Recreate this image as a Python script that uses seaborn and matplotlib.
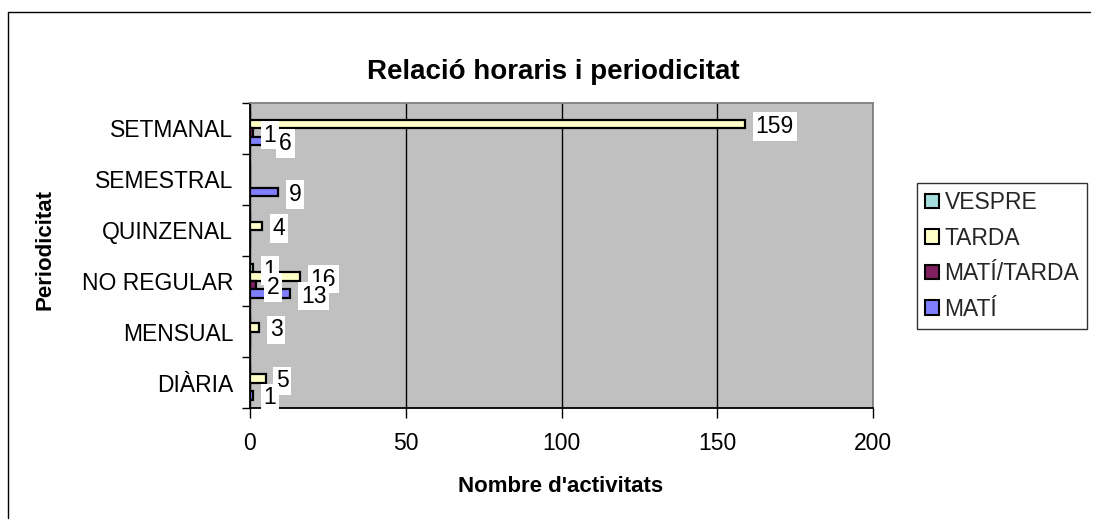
import matplotlib
matplotlib.use("Agg")
import matplotlib.pyplot as plt
import seaborn as sns
import pandas as pd
from matplotlib.patches import Patch
from matplotlib.lines import Line2D

# Activities per periodicity and time slot
periods = ["SETMANAL", "SEMESTRAL", "QUINZENAL", "NO REGULAR", "MENSUAL", "DIÀRIA"]
schedules = ["VESPRE", "TARDA", "MATÍ/TARDA", "MATÍ"]
vespre = [0, 0, 0, 1, 0, 0]
tarda = [159, 0, 4, 16, 3, 5]
mati_tarda = [1, 0, 0, 2, 0, 0]
mati = [6, 9, 0, 13, 0, 1]
x_ticks = [0, 50, 100, 150, 200]

colors = ["#A6DEDE", "#FFFFC8", "#802060", "#8080FF"]
series = [vespre, tarda, mati_tarda, mati]

df = pd.DataFrame({
    "Periodicitat": periods * len(schedules),
    "Horari": [s for s in schedules for _ in periods],
    "Activitats": vespre + tarda + mati_tarda + mati,
})

sns.set_theme(style="white")
plt.rcParams["font.family"] = ["Liberation Sans", "DejaVu Sans"]

W, H = 1093, 522
fig = plt.figure(figsize=(W / 100, H / 100), dpi=100)
ax = fig.add_axes([250 / W, 1 - 408 / H, 623 / W, 305 / H])
ax.set_facecolor("#C0C0C0")

sns.barplot(data=df, y="Periodicitat", x="Activitats", hue="Horari",
            order=periods, hue_order=schedules, palette=colors, orient="h",
            width=0.67, edgecolor="black", linewidth=1.6, saturation=1,
            errorbar=None, legend=False, ax=ax, zorder=3)

ax.set_xlim(0, 200)
ax.set_ylim(len(periods) - 0.5, -0.5)
ax.set_xlabel("")
ax.set_ylabel("")

# Value labels on bars with non-zero counts
for cont, vals in zip(ax.containers, series):
    for patch, v in zip(cont.patches, vals):
        if v <= 0:
            continue
        yc = patch.get_y() + patch.get_height() / 2
        ax.annotate(str(v), xy=(v, yc), xytext=(7.5, 0), textcoords="offset points",
                    ha="left", va="center_baseline", fontsize=16.5, color="black",
                    bbox=dict(boxstyle="square,pad=0.12", fc="white", ec="none"),
                    zorder=5, annotation_clip=False)

# Grid and axes styling
ax.set_axisbelow(True)
ax.set_xticks(x_ticks)
ax.xaxis.grid(True, color="black", linewidth=1)
ax.yaxis.grid(False)
ax.tick_params(axis="x", which="major", bottom=True, direction="out", length=7,
               width=1, color="black", pad=10, labelsize=16.5, labelcolor="black")
ax.set_yticks(range(len(periods)), periods)
ax.tick_params(axis="y", which="major", left=False, length=0, pad=12,
               labelsize=16.5, labelcolor="black")
ax.set_yticks([i - 0.5 for i in range(len(periods) + 1)], minor=True)
ax.tick_params(axis="y", which="minor", left=True, direction="out", length=6,
               width=1, color="black")

for side in ("left", "bottom"):
    ax.spines[side].set_color("black")
    ax.spines[side].set_linewidth(1.3)
for side in ("top", "right"):
    ax.spines[side].set_color("#808080")
    ax.spines[side].set_linewidth(1.3)

# Titles
fig.text(553 / W, 1 - 72 / H, "Relació horaris i periodicitat", ha="center",
         va="center", fontsize=20, fontweight="bold", color="black")
fig.text(561 / W, 1 - 487 / H, "Nombre d'activitats", ha="center", va="center",
         fontsize=16, fontweight="bold", color="black")
fig.text(45 / W, 1 - 250 / H, "Periodicitat", ha="center", va="center",
         rotation=90, fontsize=16, fontweight="bold", color="black")

# Legend
handles = [Patch(facecolor=c, edgecolor="black", linewidth=1.5) for c in colors]
leg = fig.legend(handles, schedules, loc="upper left",
                 bbox_to_anchor=(917 / W, 1 - 183 / H), bbox_transform=fig.transFigure,
                 borderaxespad=0, fontsize=16.5, frameon=True, fancybox=False,
                 handlelength=0.6, handleheight=0.6, handletextpad=0.25,
                 labelspacing=0.55, borderpad=0.35)
leg.get_frame().set_edgecolor("black")
leg.get_frame().set_linewidth(1)

# Chart border
fig.add_artist(Line2D([8 / W, 8 / W], [1 - 518 / H, 1 - 12 / H], color="black", lw=1,
                      transform=fig.transFigure))
fig.add_artist(Line2D([8 / W, 1 - 3 / W], [1 - 12 / H, 1 - 12 / H], color="black", lw=1,
                      transform=fig.transFigure))

fig.savefig("out.png", dpi=100, facecolor="white")
